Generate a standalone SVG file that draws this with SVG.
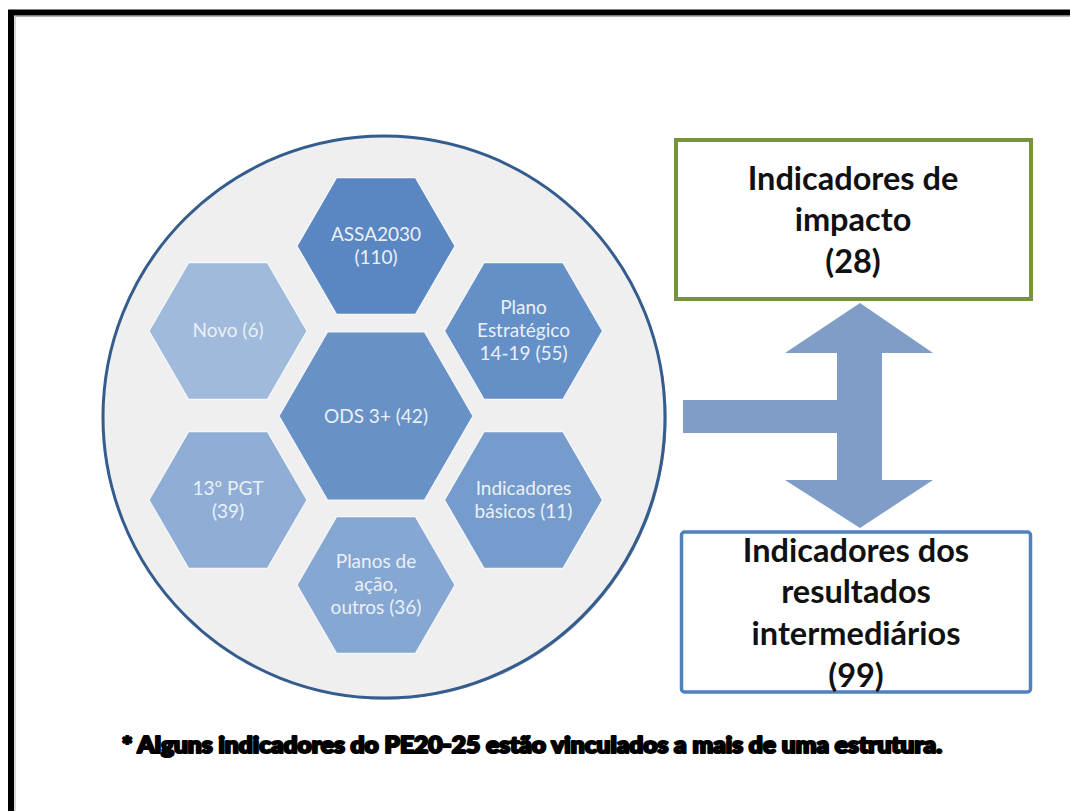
<svg xmlns="http://www.w3.org/2000/svg" xmlns:xlink="http://www.w3.org/1999/xlink" width="1070" height="811" viewBox="0 0 1070 811">
<style>
.hex-t{font-family:Lato,"Open Sans","Liberation Sans",sans-serif;font-size:19px;fill:#eaf0f7;text-anchor:middle}
.box-t{font-family:Lato,"Open Sans","Liberation Sans",sans-serif;font-size:32.5px;font-weight:bold;fill:#111;text-anchor:middle}
.hex{stroke:#f6f8fb;stroke-width:1.2}
</style>
<defs>
<polygon id="hexS" points="-79,0 -39.5,-68.4 39.5,-68.4 79,0 39.5,68.4 -39.5,68.4"/>
<polygon id="hexL" points="-97,0 -48.5,-84 48.5,-84 97,0 48.5,84 -48.5,84"/>
</defs>
<rect x="0" y="0" width="1070" height="811" fill="#ffffff"/>
<g id="frame">
<rect x="11" y="12.5" width="1120" height="880" fill="none" stroke="#000" stroke-width="6"/>
<path d="M15,900 V16.5 H1070" fill="none" stroke="#b0b0b0" stroke-width="1"/>
</g>
<g id="circle">
<circle cx="385.5" cy="418.5" r="281" fill="#1f3f66" opacity="0.6"/>
<circle cx="384" cy="417" r="281" fill="#efefef" stroke="#345d8e" stroke-width="3"/>
</g>
<g id="hex-assa">
<use xlink:href="#hexS" href="#hexS" x="376" y="246" fill="#5a87c2" class="hex"/>
<text class="hex-t" x="376" y="241">ASSA2030</text>
<text class="hex-t" x="376" y="264">(110)</text>
</g>
<g id="hex-plano">
<use xlink:href="#hexS" href="#hexS" x="523.5" y="331" fill="#6590c7" class="hex"/>
<text class="hex-t" x="523.5" y="314">Plano</text>
<text class="hex-t" x="523.5" y="337">Estratégico</text>
<text class="hex-t" x="523.5" y="360">14-19 (55)</text>
</g>
<g id="hex-basicos">
<use xlink:href="#hexS" href="#hexS" x="523.5" y="500" fill="#769ccd" class="hex"/>
<text class="hex-t" x="523.5" y="495">Indicadores</text>
<text class="hex-t" x="523.5" y="518">básicos (11)</text>
</g>
<g id="hex-planos">
<use xlink:href="#hexS" href="#hexS" x="376" y="585" fill="#85a7d2" class="hex"/>
<text class="hex-t" x="376" y="568">Planos de</text>
<text class="hex-t" x="376" y="591">ação,</text>
<text class="hex-t" x="376" y="614">outros (36)</text>
</g>
<g id="hex-pgt">
<use xlink:href="#hexS" href="#hexS" x="228" y="500" fill="#90aed5" class="hex"/>
<text class="hex-t" x="228" y="495">13º PGT</text>
<text class="hex-t" x="228" y="518">(39)</text>
</g>
<g id="hex-novo">
<use xlink:href="#hexS" href="#hexS" x="228" y="331" fill="#a0badb" class="hex"/>
<text class="hex-t" x="228" y="337">Novo (6)</text>
</g>
<g id="hex-ods">
<use xlink:href="#hexL" href="#hexL" x="376" y="416" fill="#6891c6" class="hex"/>
<text class="hex-t" x="376" y="423">ODS 3+ (42)</text>
</g>
<g id="connectors">
<polygon points="860,303 933,353 882,353 882,480 933,480 860,528 785,480 837,480 837,433 683,433 683,400 837,400 837,353 785,353" fill="#7f9dc6"/>
</g>
<g id="box-impacto">
<rect x="676" y="140" width="355" height="159" fill="#fff" stroke="#77933c" stroke-width="4"/>
<text class="box-t" x="853" y="190">Indicadores de</text>
<text class="box-t" x="853" y="231">impacto</text>
<text class="box-t" x="853" y="273">(28)</text>
</g>
<g id="box-resultados">
<rect x="681.5" y="532" width="349" height="160" rx="3" fill="#fff" stroke="#4f81bd" stroke-width="3.5"/>
<text class="box-t" x="856" y="562">Indicadores dos</text>
<text class="box-t" x="856" y="603">resultados</text>
<text class="box-t" x="856" y="645">intermediários</text>
<text class="box-t" x="856" y="687">(99)</text>
</g>
<g id="footnote">
<text x="122" y="753" font-family="Lato,'Liberation Sans',sans-serif" font-size="22" font-weight="900" fill="#000" stroke="#000" stroke-width="2.2" stroke-linejoin="round" textLength="820" lengthAdjust="spacingAndGlyphs">* Alguns indicadores do PE20-25 estão vinculados a mais de uma estrutura.</text>
</g>
</svg>
